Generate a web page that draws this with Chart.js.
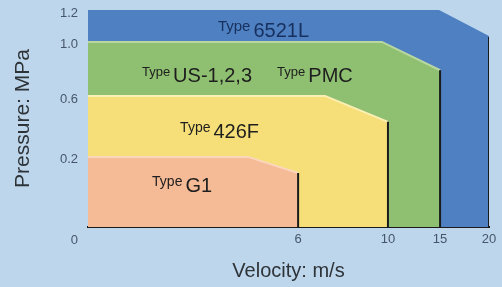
<!DOCTYPE html>
<html>
<head>
<meta charset="utf-8">
<script src="https://cdn.jsdelivr.net/npm/chart.js@4.4.0/dist/chart.umd.min.js"></script>
<style>
  html, body { margin: 0; padding: 0; background: #bdd6ec; }
  canvas { display: block; }
</style>
</head>
<body>
<canvas id="chart" width="502" height="287"></canvas>
<script>
// данные: контуры областей (скорость м/с, давление МПа)
const velocityTicks = [0, 6, 10, 15, 20];
const pressureTicks = [0, 0.2, 0.6, 1.0, 1.2];

const seriesNames = ["G1", "426F", "US-1,2,3 / PMC", "6521L"];

const g1Velocity = [0, 4.57, 6, 6];
const g1Pressure = [0.2, 0.2, 0.154, 0];

const f426Velocity = [0, 7.2, 10, 10];
const f426Pressure = [0.6, 0.6, 0.43, 0];

const usPmcVelocity = [0, 9.73, 15, 15];
const usPmcPressure = [1.0, 1.0, 0.79, 0];

const l6521Velocity = [0, 14.7, 20, 20];
const l6521Pressure = [1.2, 1.2, 1.03, 0];

// подписи областей: "Type" + название, привязка в координатах данных
const regionLabels = [
  { name: "6521L", x: 3.71, y: 1.03, typeSize: 15, color: "#17305e" },
  { name: "US-1,2,3", x: 1.54, y: 0.704, typeSize: 13, color: "#1e1e1e" },
  { name: "PMC", x: 5.4, y: 0.704, typeSize: 13, color: "#1e1e1e" },
  { name: "426F", x: 2.63, y: 0.325, typeSize: 14, color: "#1e1e1e" },
  { name: "G1", x: 1.83, y: 0.1, typeSize: 14, color: "#1e1e1e" },
];

const FONT = "'Liberation Sans', Arial, sans-serif";

// Шкала с неравномерными интервалами между делениями
class PiecewiseScale extends Chart.LinearScale {
  static id = "piecewise";
  static defaults = Chart.LinearScale.defaults;

  toDecimal(v) {
    const b = this.options.breaks;
    const f = this.options.fractions;
    for (let i = 1; i < b.length; i++) {
      if (v <= b[i] || i === b.length - 1) {
        return f[i - 1] + ((v - b[i - 1]) / (b[i] - b[i - 1])) * (f[i] - f[i - 1]);
      }
    }
    return 0;
  }

  getPixelForValue(value) {
    return this.getPixelForDecimal(this.toDecimal(value));
  }

  getValueForPixel(pixel) {
    const d = this.getDecimalForPixel(pixel);
    const b = this.options.breaks;
    const f = this.options.fractions;
    for (let i = 1; i < f.length; i++) {
      if (d <= f[i] || i === f.length - 1) {
        return b[i - 1] + ((d - f[i - 1]) / (f[i] - f[i - 1])) * (b[i] - b[i - 1]);
      }
    }
    return 0;
  }
}
Chart.register(PiecewiseScale);

function toPoints(xs, ys) {
  return xs.map((x, i) => ({ x: x, y: ys[i] }));
}

const fills = ["#f4bb96", "#f6df78", "#8fbf71", "#4e80c2"];
const edges = ["#fbd6bd", "#fcefb4", "#b9d89f", "#4e80c2"];
const pointSets = [
  toPoints(g1Velocity, g1Pressure),
  toPoints(f426Velocity, f426Pressure),
  toPoints(usPmcVelocity, usPmcPressure),
  toPoints(l6521Velocity, l6521Pressure),
];

const datasets = pointSets.map((pts, i) => ({
  label: seriesNames[i],
  data: pts,
  backgroundColor: fills[i],
  borderWidth: 2,
  fill: "origin",
  pointRadius: 0,
  tension: 0,
  segment: {
    // правая вертикальная граница — тёмная линия
    borderColor: (ctx) => (ctx.p1DataIndex === pts.length - 1 ? "#1b1b1b" : edges[i]),
  },
}));

// плагин для подписей внутри областей
const regionLabelPlugin = {
  id: "regionLabels",
  afterDatasetsDraw(chart) {
    const { ctx, scales } = chart;
    ctx.save();
    ctx.textBaseline = "alphabetic";
    ctx.textAlign = "left";
    regionLabels.forEach((l) => {
      const px = scales.x.getPixelForValue(l.x);
      const py = scales.y.getPixelForValue(l.y);
      ctx.fillStyle = l.color;
      ctx.font = l.typeSize + "px " + FONT;
      ctx.fillText("Type", px, py - 6);
      const w = ctx.measureText("Type").width;
      ctx.font = "20px " + FONT;
      ctx.fillText(l.name, px + w + 3, py);
    });
    ctx.restore();
  },
};

new Chart(document.getElementById("chart"), {
  type: "line",
  data: { datasets: datasets },
  plugins: [regionLabelPlugin],
  options: {
    responsive: false,
    animation: false,
    layout: { padding: { top: 10, right: 13, left: 0, bottom: 0 } },
    plugins: {
      legend: { display: false },
      tooltip: { enabled: false },
    },
    scales: {
      x: {
        type: "piecewise",
        min: 0,
        max: 20,
        breaks: velocityTicks,
        fractions: [0, 0.524, 0.748, 0.878, 1],
        z: 1,
        grid: { display: false, drawTicks: false },
        border: { display: true, color: "#1b1b1b", width: 2 },
        afterBuildTicks: (scale) => {
          scale.ticks = velocityTicks.filter((v) => v > 0).map((v) => ({ value: v }));
        },
        afterFit: (scale) => {
          scale.height = 60;
        },
        ticks: {
          padding: 5,
          color: "#46566a",
          font: { family: FONT, size: 13 },
          maxRotation: 0,
          callback: (v) => String(v),
        },
        title: {
          display: true,
          text: "Velocity: m/s",
          color: "#2e3338",
          font: { family: FONT, size: 20 },
          padding: { top: 0, bottom: 4 },
        },
      },
      y: {
        type: "piecewise",
        min: 0,
        max: 1.2,
        breaks: pressureTicks,
        fractions: [0, 0.323, 0.604, 0.853, 1],
        grid: { display: false, drawTicks: false },
        border: { display: false },
        afterBuildTicks: (scale) => {
          scale.ticks = pressureTicks.map((v) => ({ value: v }));
        },
        afterFit: (scale) => {
          scale.width = 88;
          // отступы задаёт layout.padding, а не высота подписей
          scale.paddingTop = 0;
          scale.paddingBottom = 0;
        },
        ticks: {
          padding: 10,
          labelOffset: 3,
          color: "#46566a",
          font: { family: FONT, size: 13, lineHeight: 1.55 },
          // ноль подписан ниже оси, как в оригинале
          callback: (v) => (v === 0 ? ["", "0"] : v.toFixed(1)),
        },
        title: {
          display: true,
          text: "Pressure: MPa",
          color: "#2e3338",
          font: { family: FONT, size: 21 },
          padding: { top: 11, bottom: 0 },
        },
      },
    },
  },
});
</script>
</body>
</html>
